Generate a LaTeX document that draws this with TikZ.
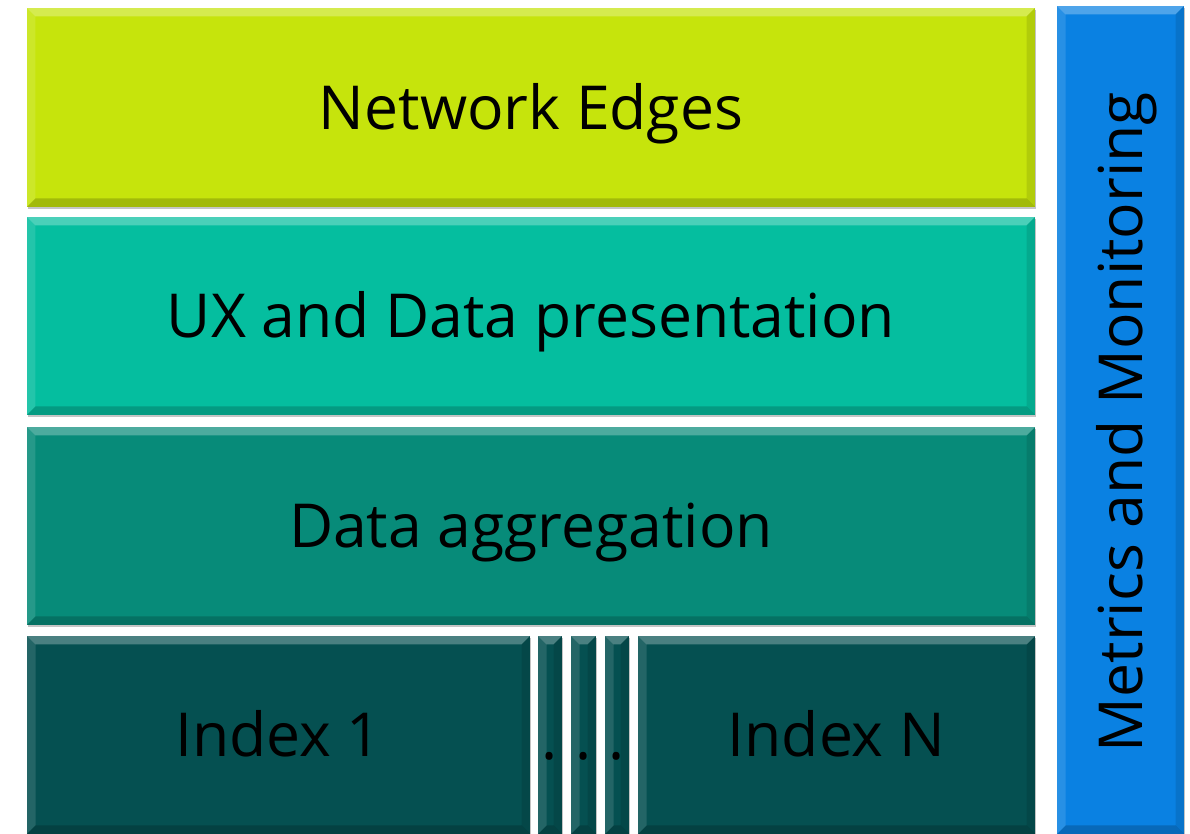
\documentclass[tikz,border=0pt]{standalone}
\usepackage{fontspec}
\setmainfont{Open Sans}
\usepackage{tikz}
\usetikzlibrary{shadows}

\definecolor{edgecol}{HTML}{C6E40C}
\definecolor{uxcol}{HTML}{05BE9F}
\definecolor{aggcol}{HTML}{078B79}
\definecolor{idxcol}{HTML}{055051}
\definecolor{metcol}{HTML}{0A81E2}

\newcommand{\bevw}{0.17cm}

\tikzset{
  bevel/.style={
    path picture={
      \coordinate (nw) at (path picture bounding box.north west);
      \coordinate (ne) at (path picture bounding box.north east);
      \coordinate (sw) at (path picture bounding box.south west);
      \coordinate (se) at (path picture bounding box.south east);
      % light top and left, dark bottom and right
      \fill[white,opacity=.28] (nw) -- (ne) -- ([shift={(-\bevw,-\bevw)}]ne) -- ([shift={(\bevw,-\bevw)}]nw) -- cycle;
      \fill[white,opacity=.12] (nw) -- ([shift={(\bevw,-\bevw)}]nw) -- ([shift={(\bevw,\bevw)}]sw) -- (sw) -- cycle;
      \fill[black,opacity=.18] (sw) -- ([shift={(\bevw,\bevw)}]sw) -- ([shift={(-\bevw,\bevw)}]se) -- (se) -- cycle;
      \fill[black,opacity=.10] (ne) -- (se) -- ([shift={(-\bevw,\bevw)}]se) -- ([shift={(-\bevw,-\bevw)}]ne) -- cycle;
    }},
  layer/.style={fill=#1, bevel, inner sep=0pt, text=black,
    drop shadow={shadow xshift=0.6pt, shadow yshift=-1.2pt, fill=black!45, opacity=.5}},
  % caps centred in the box
  bigtext/.style={font=\fontsize{34.5}{40}\selectfont, text height=24.6pt, text depth=0pt}
}

\begin{document}
\begin{tikzpicture}
    \useasboundingbox (0,0) rectangle (23.8,16.68);
    \begin{scope}[every node/.style={bigtext}]
        \node(edges)[layer=edgecol, minimum width=20.16cm, minimum height=3.98cm] at (10.62,14.53) {Network Edges};
        \node(ux)[layer=uxcol, minimum width=20.16cm, minimum height=3.96cm] at (10.62,10.36) {UX and Data presentation};
        \node(agg)[layer=aggcol, minimum width=20.16cm, minimum height=3.96cm] at (10.62,6.16) {Data aggregation};

        \node(idx1)[layer=idxcol, minimum width=10.06cm, minimum height=3.96cm] at (5.57,1.98) {Index 1};
        \node(bar1)[layer=idxcol, minimum width=0.48cm, minimum height=3.96cm] at (11.00,1.98) {};
        \node(bar2)[layer=idxcol, minimum width=0.50cm, minimum height=3.96cm] at (11.67,1.98) {};
        \node(bar3)[layer=idxcol, minimum width=0.48cm, minimum height=3.96cm] at (12.34,1.98) {};
        \node(idxn)[layer=idxcol, minimum width=7.94cm, minimum height=3.96cm] at (16.73,1.98) {Index N};

        \node(metrics)[layer=metcol, minimum width=2.54cm, minimum height=16.56cm] at (22.41,8.28) {};
        \node(mtext)[rotate=90] at (22.41,8.24) {Metrics and Monitoring};

        % the dots of the index row, one in each bar
        \node(dot1)[inner sep=0pt, anchor=base, text height=, text depth=] at (11.00,1.49) {.};
        \node(dot2)[inner sep=0pt, anchor=base, text height=, text depth=] at (11.67,1.49) {.};
        \node(dot3)[inner sep=0pt, anchor=base, text height=, text depth=] at (12.34,1.49) {.};
    \end{scope}
\end{tikzpicture}
\end{document}
